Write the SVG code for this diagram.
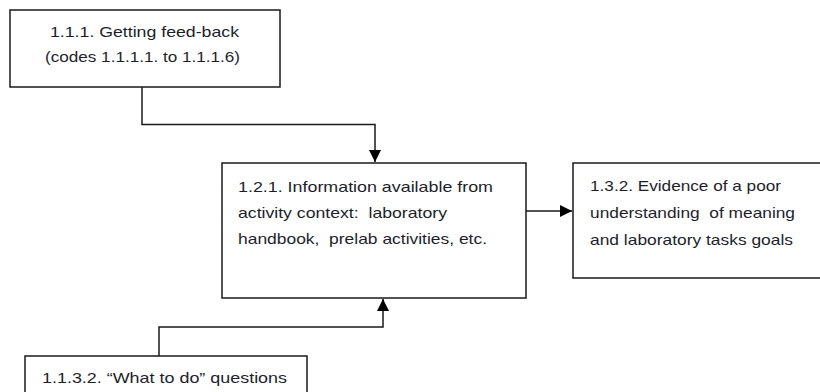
<svg xmlns="http://www.w3.org/2000/svg" width="820" height="392" viewBox="0 0 820 392">
<defs>
<style>
.box{fill:#fff;stroke:#1a1a1a;stroke-width:1.5}
.t{font-family:"Liberation Sans",Arial,sans-serif;font-size:14.5px;fill:#1e1e2a;white-space:pre}
.c{fill:none;stroke:#1a1a1a;stroke-width:1.5}
</style>
<marker id="ah" viewBox="0 0 12 12" refX="12" refY="6" markerWidth="12" markerHeight="12" markerUnits="userSpaceOnUse" orient="auto">
<path d="M0,0 L12,6 L0,12 z" fill="#000"/>
</marker>
</defs>
<g id="connectors">
<path class="c" d="M142,87 V124.5 H375 V162" marker-end="url(#ah)"/>
<path class="c" d="M526,211 H572" marker-end="url(#ah)"/>
<path class="c" d="M159,356 V327 H383 V299" marker-end="url(#ah)"/>
</g>
<g id="n111">
<rect class="box" x="10" y="10" width="270" height="77"/>
<text class="t" x="50" y="37" textLength="189" lengthAdjust="spacingAndGlyphs">1.1.1. Getting feed-back</text>
<text class="t" x="45" y="62" textLength="195" lengthAdjust="spacingAndGlyphs">(codes 1.1.1.1. to 1.1.1.6)</text>
</g>
<g id="n121">
<rect class="box" x="222" y="163" width="304" height="135"/>
<text class="t" x="238" y="192" textLength="255" lengthAdjust="spacingAndGlyphs">1.2.1. Information available from</text>
<text class="t" x="238" y="218" textLength="209" lengthAdjust="spacingAndGlyphs" xml:space="preserve">activity context:  laboratory</text>
<text class="t" x="238" y="244" textLength="249" lengthAdjust="spacingAndGlyphs" xml:space="preserve">handbook,  prelab activities, etc.</text>
</g>
<g id="n132">
<rect class="box" x="573" y="163" width="260" height="115"/>
<text class="t" x="590" y="191" textLength="191" lengthAdjust="spacingAndGlyphs">1.3.2. Evidence of a poor</text>
<text class="t" x="590" y="218" textLength="205" lengthAdjust="spacingAndGlyphs" xml:space="preserve">understanding  of meaning</text>
<text class="t" x="590" y="245" textLength="203" lengthAdjust="spacingAndGlyphs">and laboratory tasks goals</text>
</g>
<g id="n1132">
<rect class="box" x="25" y="356" width="282" height="50"/>
<text class="t" x="42" y="383" textLength="245" lengthAdjust="spacingAndGlyphs">1.1.3.2. “What to do” questions</text>
</g>
</svg>
